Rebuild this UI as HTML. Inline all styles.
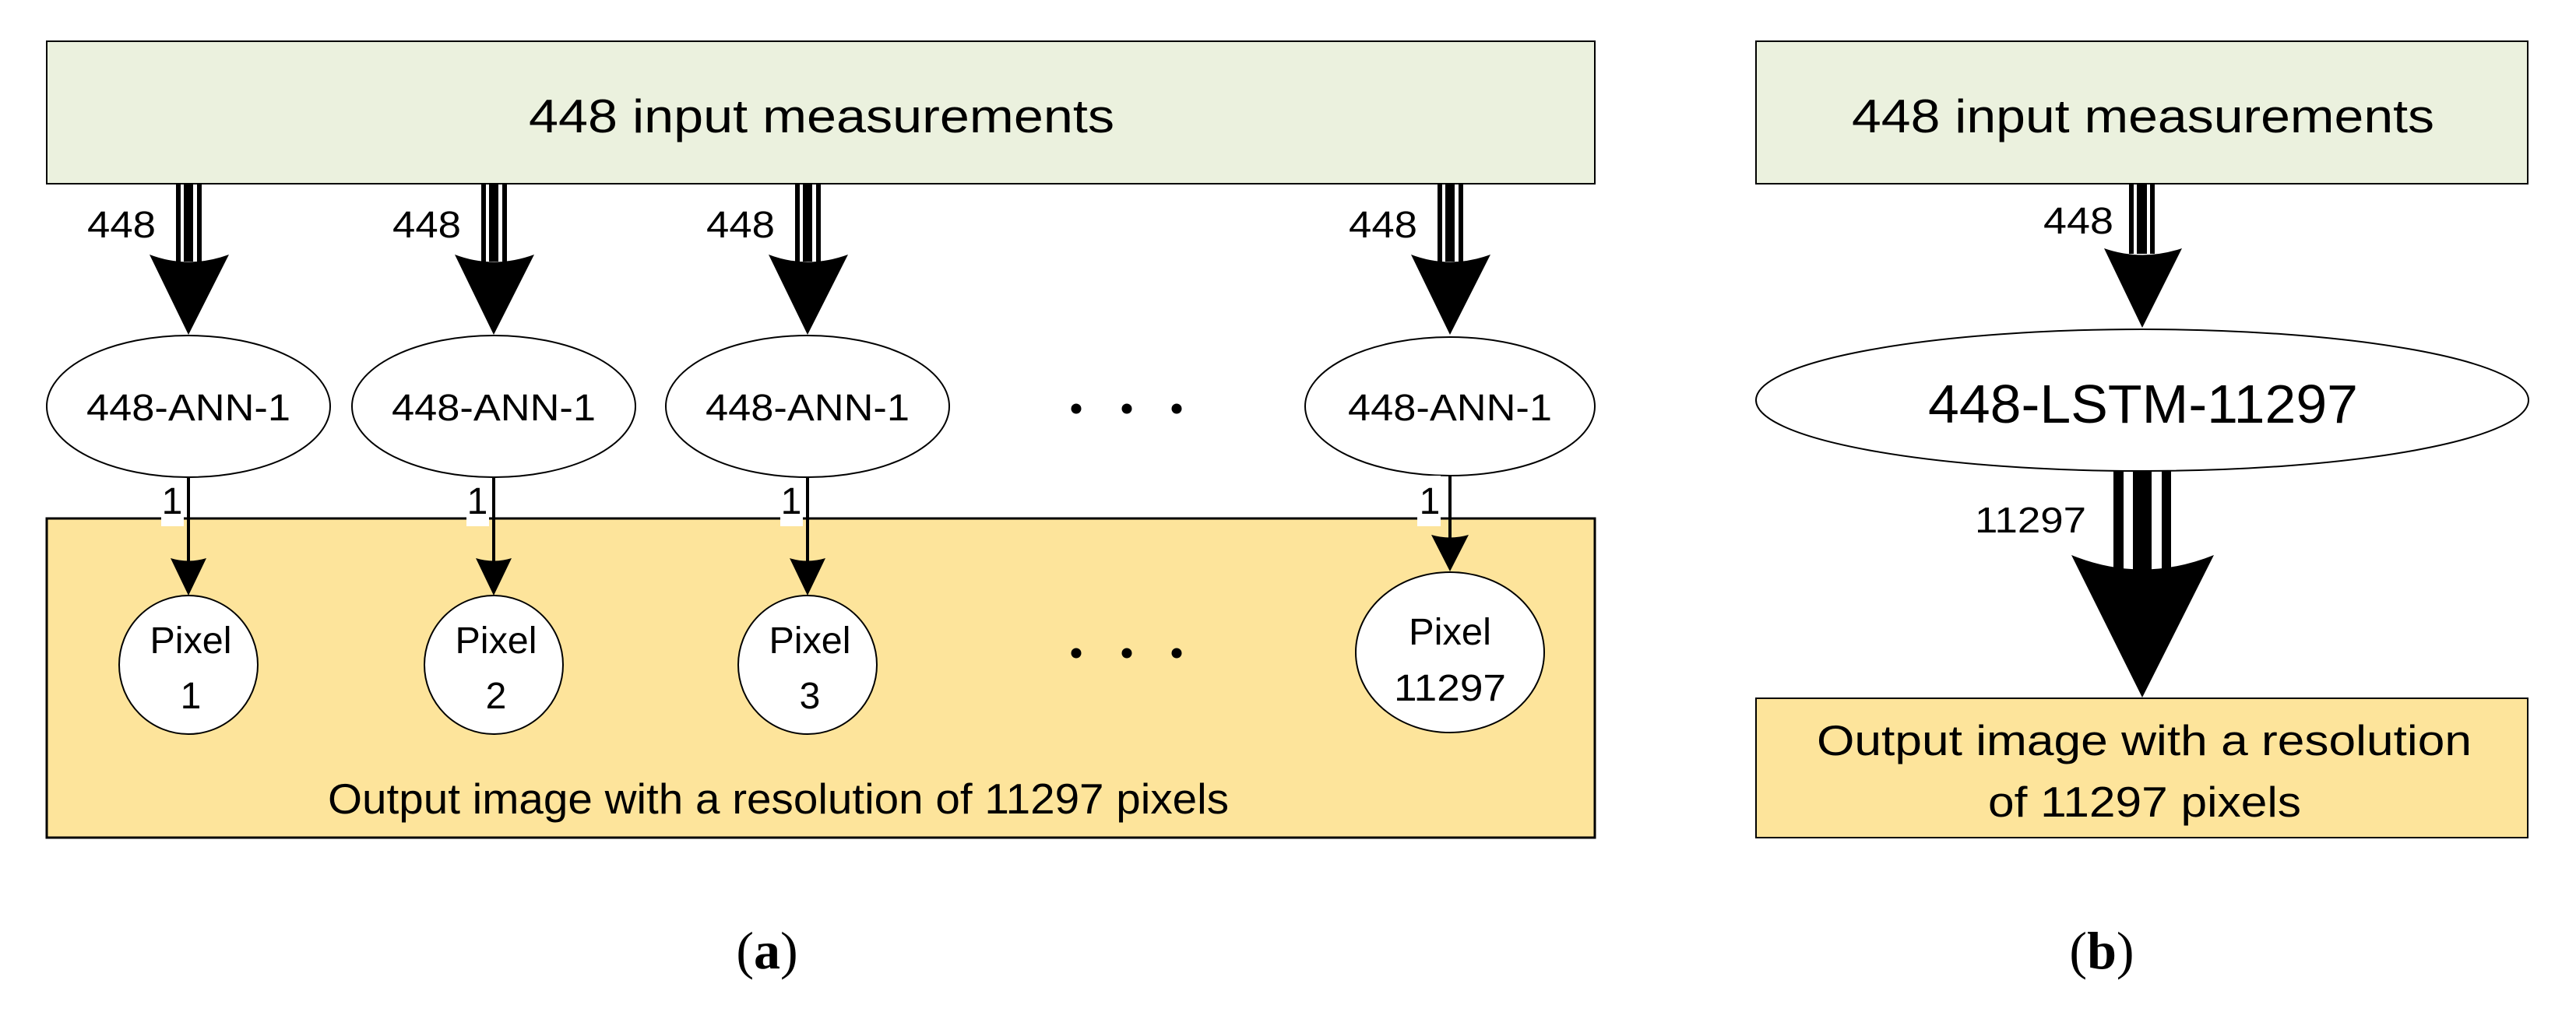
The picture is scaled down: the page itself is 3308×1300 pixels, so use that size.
<!DOCTYPE html>
<html><head><meta charset="utf-8"><style>
html,body{margin:0;padding:0;background:#fff;}
svg{display:block;}
text{font-family:"Liberation Sans",sans-serif;fill:#000;}
</style></head><body>
<svg width="3308" height="1300" viewBox="0 0 3308 1300" xmlns="http://www.w3.org/2000/svg">
<!-- Panel a -->
<rect x="60" y="53" width="1988" height="183" fill="#EBF1DE" stroke="#000" stroke-width="2"/>
<text x="679" y="170" font-size="60" textLength="752" lengthAdjust="spacingAndGlyphs">448 input measurements</text>
<rect x="60" y="666" width="1988" height="410" fill="#FDE49B" stroke="#000" stroke-width="3"/>
<text x="421" y="1045" font-size="55" textLength="1157" lengthAdjust="spacingAndGlyphs">Output image with a resolution of 11297 pixels</text>

<!-- Column 1 -->
<g>
<rect x="226" y="236" width="6" height="100" fill="#000"/><rect x="236" y="236" width="12" height="100" fill="#000"/><rect x="253" y="236" width="6" height="100" fill="#000"/>
<path d="M192,327 Q242,346 294,327 L242,430 Z" fill="#000"/>
<text x="112" y="305" font-size="48" textLength="88" lengthAdjust="spacingAndGlyphs">448</text>
<ellipse cx="242" cy="522" rx="182" ry="91" fill="#fff" stroke="#000" stroke-width="2"/>
<text x="242" y="540" font-size="48" text-anchor="middle" textLength="262" lengthAdjust="spacingAndGlyphs">448-ANN-1</text>
<rect x="207" y="614" width="29" height="62" fill="#fff"/>
<text x="221" y="660" font-size="48" text-anchor="middle">1</text>
<line x1="242" y1="614" x2="242" y2="725" stroke="#000" stroke-width="4"/>
<path d="M219,717 Q242,724 265,717 L242,765 Z" fill="#000"/>
<ellipse cx="242" cy="854" rx="89" ry="89" fill="#fff" stroke="#000" stroke-width="2"/>
<text x="245" y="839" font-size="48" text-anchor="middle" textLength="105" lengthAdjust="spacingAndGlyphs">Pixel</text>
<text x="245" y="910" font-size="48" text-anchor="middle">1</text>
</g>
<!-- Column 2 -->
<g transform="translate(392,0)">
<rect x="226" y="236" width="6" height="100" fill="#000"/><rect x="236" y="236" width="12" height="100" fill="#000"/><rect x="253" y="236" width="6" height="100" fill="#000"/>
<path d="M192,327 Q242,346 294,327 L242,430 Z" fill="#000"/>
<text x="112" y="305" font-size="48" textLength="88" lengthAdjust="spacingAndGlyphs">448</text>
<ellipse cx="242" cy="522" rx="182" ry="91" fill="#fff" stroke="#000" stroke-width="2"/>
<text x="242" y="540" font-size="48" text-anchor="middle" textLength="262" lengthAdjust="spacingAndGlyphs">448-ANN-1</text>
<rect x="207" y="614" width="29" height="62" fill="#fff"/>
<text x="221" y="660" font-size="48" text-anchor="middle">1</text>
<line x1="242" y1="614" x2="242" y2="725" stroke="#000" stroke-width="4"/>
<path d="M219,717 Q242,724 265,717 L242,765 Z" fill="#000"/>
<ellipse cx="242" cy="854" rx="89" ry="89" fill="#fff" stroke="#000" stroke-width="2"/>
<text x="245" y="839" font-size="48" text-anchor="middle" textLength="105" lengthAdjust="spacingAndGlyphs">Pixel</text>
<text x="245" y="910" font-size="48" text-anchor="middle">2</text>
</g>
<!-- Column 3 -->
<g transform="translate(795,0)">
<rect x="226" y="236" width="6" height="100" fill="#000"/><rect x="236" y="236" width="12" height="100" fill="#000"/><rect x="253" y="236" width="6" height="100" fill="#000"/>
<path d="M192,327 Q242,346 294,327 L242,430 Z" fill="#000"/>
<text x="112" y="305" font-size="48" textLength="88" lengthAdjust="spacingAndGlyphs">448</text>
<ellipse cx="242" cy="522" rx="182" ry="91" fill="#fff" stroke="#000" stroke-width="2"/>
<text x="242" y="540" font-size="48" text-anchor="middle" textLength="262" lengthAdjust="spacingAndGlyphs">448-ANN-1</text>
<rect x="207" y="614" width="29" height="62" fill="#fff"/>
<text x="221" y="660" font-size="48" text-anchor="middle">1</text>
<line x1="242" y1="614" x2="242" y2="725" stroke="#000" stroke-width="4"/>
<path d="M219,717 Q242,724 265,717 L242,765 Z" fill="#000"/>
<ellipse cx="242" cy="854" rx="89" ry="89" fill="#fff" stroke="#000" stroke-width="2"/>
<text x="245" y="839" font-size="48" text-anchor="middle" textLength="105" lengthAdjust="spacingAndGlyphs">Pixel</text>
<text x="245" y="910" font-size="48" text-anchor="middle">3</text>
</g>
<!-- Column 4 -->
<g transform="translate(1620,0)">
<rect x="226" y="236" width="6" height="100" fill="#000"/><rect x="236" y="236" width="12" height="100" fill="#000"/><rect x="253" y="236" width="6" height="100" fill="#000"/>
<path d="M192,327 Q242,346 294,327 L242,430 Z" fill="#000"/>
<text x="112" y="305" font-size="48" textLength="88" lengthAdjust="spacingAndGlyphs">448</text>
<ellipse cx="242" cy="522" rx="186" ry="89" fill="#fff" stroke="#000" stroke-width="2"/>
<text x="242" y="540" font-size="48" text-anchor="middle" textLength="262" lengthAdjust="spacingAndGlyphs">448-ANN-1</text>
<rect x="200" y="611" width="30" height="65" fill="#fff"/>
<text x="216" y="660" font-size="48" text-anchor="middle">1</text>
<line x1="242" y1="611" x2="242" y2="697" stroke="#000" stroke-width="4"/>
<path d="M218,687 Q242,694 266,687 L242,734 Z" fill="#000"/>
<ellipse cx="242" cy="838" rx="121" ry="103" fill="#fff" stroke="#000" stroke-width="2"/>
<text x="242" y="828" font-size="48" text-anchor="middle" textLength="106" lengthAdjust="spacingAndGlyphs">Pixel</text>
<text x="242" y="900" font-size="48" text-anchor="middle" textLength="144" lengthAdjust="spacingAndGlyphs">11297</text>
</g>
<!-- dots -->
<circle cx="1382" cy="525" r="6.5"/><circle cx="1447" cy="525" r="6.5"/><circle cx="1511" cy="525" r="6.5"/>
<circle cx="1382" cy="839" r="6.5"/><circle cx="1447" cy="839" r="6.5"/><circle cx="1511" cy="839" r="6.5"/>
<text x="985" y="1244" font-size="68" style="font-family:'Liberation Serif',serif" text-anchor="middle"><tspan>(</tspan><tspan font-weight="bold">a</tspan><tspan>)</tspan></text>

<!-- Panel b -->
<rect x="2255" y="53" width="991" height="183" fill="#EBF1DE" stroke="#000" stroke-width="2"/>
<text x="2378" y="170" font-size="60" textLength="748" lengthAdjust="spacingAndGlyphs">448 input measurements</text>
<rect x="2734" y="236" width="6" height="90" fill="#000"/><rect x="2744" y="236" width="13" height="90" fill="#000"/><rect x="2761" y="236" width="6" height="90" fill="#000"/>
<path d="M2702,319 Q2751,336 2802,319 L2751,421 Z" fill="#000"/>
<text x="2624" y="300" font-size="48" textLength="90" lengthAdjust="spacingAndGlyphs">448</text>
<ellipse cx="2751" cy="514" rx="496" ry="91" fill="#fff" stroke="#000" stroke-width="2"/>
<text x="2476" y="543" font-size="70" textLength="552" lengthAdjust="spacingAndGlyphs">448-LSTM-11297</text>
<rect x="2714" y="605" width="13" height="130" fill="#000"/><rect x="2739" y="605" width="24" height="130" fill="#000"/><rect x="2776" y="605" width="12" height="130" fill="#000"/>
<path d="M2660,713 Q2751,750 2843,713 L2751,896 Z" fill="#000"/>
<text x="2536" y="684" font-size="46" textLength="143" lengthAdjust="spacingAndGlyphs">11297</text>
<rect x="2255" y="897" width="991" height="179" fill="#FDE49B" stroke="#000" stroke-width="2"/>
<text x="2333" y="970" font-size="55" textLength="841" lengthAdjust="spacingAndGlyphs">Output image with a resolution</text>
<text x="2553" y="1049" font-size="55" textLength="402" lengthAdjust="spacingAndGlyphs">of 11297 pixels</text>
<text x="2699" y="1244" font-size="68" style="font-family:'Liberation Serif',serif" text-anchor="middle"><tspan>(</tspan><tspan font-weight="bold">b</tspan><tspan>)</tspan></text>
</svg>
</body></html>
